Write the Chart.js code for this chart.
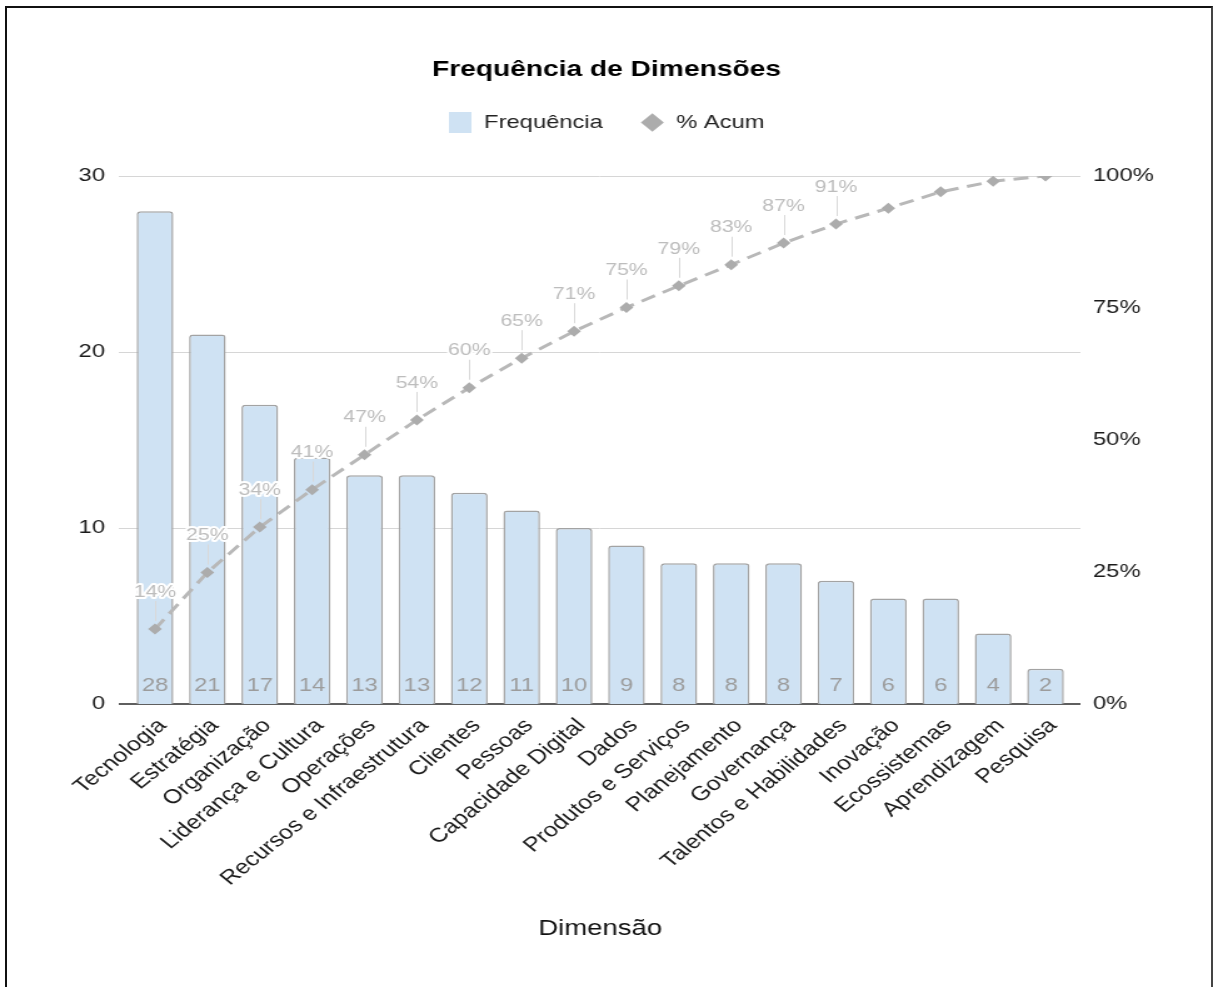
<!DOCTYPE html>
<html>
<head>
<meta charset="utf-8">
<title>Frequência de Dimensões</title>
<script src="https://cdn.jsdelivr.net/npm/chart.js@4.4.1/dist/chart.umd.min.js"></script>
<style>
  html, body { margin: 0; padding: 0; background: #fff; overflow: hidden; }
  /* thin frame round the picture, open at the bottom */
  #frame {
    position: absolute; left: 5px; top: 6px; width: 1208px; height: 1000px;
    box-sizing: border-box; border: 2px solid #111; border-bottom: none; border-right-color: #444;
  }
  #chart { position: absolute; left: 0; top: 0; }
</style>
</head>
<body>
<div id="frame"></div>
<!-- the source image is stretched sideways, so the canvas is drawn narrow and widened by its inline style -->
<canvas id="chart" width="970" height="987" style="width:1213px;height:987px"></canvas>
<script>
const FONT = "'Liberation Sans', Arial, sans-serif";

const dimensions = [
  "Tecnologia", "Estratégia", "Organização", "Liderança e Cultura", "Operações",
  "Recursos e Infraestrutura", "Clientes", "Pessoas", "Capacidade Digital", "Dados",
  "Produtos e Serviços", "Planejamento", "Governança", "Talentos e Habilidades",
  "Inovação", "Ecossistemas", "Aprendizagem", "Pesquisa",
];
const frequencies = [28, 21, 17, 14, 13, 13, 12, 11, 10, 9, 8, 8, 8, 7, 6, 6, 4, 2];
const cumulativePct = [14.2, 24.9, 33.5, 40.6, 47.2, 53.8, 59.9, 65.5, 70.6, 75.1, 79.2, 83.2, 87.3, 90.9, 93.9, 97.0, 99.0, 100];
// only the first points carry a label in the original
const pctLabels = ["14%", "25%", "34%", "41%", "47%", "54%", "60%", "65%", "71%", "75%", "79%", "83%", "87%", "91%", "", "", "", ""];

// legend swatch for the bars
const swatch = document.createElement("canvas");
swatch.width = 18;
swatch.height = 21;
const sctx = swatch.getContext("2d");
sctx.fillStyle = "#cfe2f3";
sctx.fillRect(0, 0, 18, 21);

// horizontal grid lines, a little wider than the plot area like the original
const gridPlugin = {
  id: "extendedGrid",
  beforeDatasetsDraw(chart) {
    const { ctx, chartArea } = chart;
    const y = chart.scales.y;
    ctx.save();
    y.ticks.forEach((t) => {
      const py = Math.round(y.getPixelForValue(t.value));
      const zero = t.value === 0;
      ctx.strokeStyle = zero ? "#5f5f5f" : "#d6d6d6";
      ctx.lineWidth = zero ? 2 : 1;
      const off = zero ? 0 : 0.5;
      ctx.beginPath();
      ctx.moveTo(chartArea.left - 8, py + off);
      ctx.lineTo(chartArea.right + 7, py + off);
      ctx.stroke();
    });
    ctx.restore();
  },
};

const labelsPlugin = {
  id: "valueLabels",
  afterDatasetsDraw(chart) {
    const { ctx } = chart;
    const base = chart.scales.y.getPixelForValue(0);
    ctx.save();
    ctx.textAlign = "center";
    ctx.textBaseline = "middle";

    ctx.font = `19px ${FONT}`;
    ctx.fillStyle = "#9c9c9c";
    chart.getDatasetMeta(0).data.forEach((bar, i) => {
      ctx.fillText(String(frequencies[i]), bar.x, base - 18);
    });

    ctx.font = `17px ${FONT}`;
    chart.getDatasetMeta(1).data.forEach((pt, i) => {
      if (!pctLabels[i]) return;
      const lx = Math.round(pt.x) + 0.5;
      ctx.strokeStyle = "#d9d9d9";
      ctx.lineWidth = 1;
      ctx.beginPath();
      ctx.moveTo(lx, pt.y - 8);
      ctx.lineTo(lx, pt.y - 28);
      ctx.stroke();
      ctx.lineJoin = "round";
      ctx.lineWidth = 4;
      ctx.strokeStyle = "#ffffff";
      ctx.strokeText(pctLabels[i], pt.x, pt.y - 37);
      ctx.fillStyle = "#bdbdbd";
      ctx.fillText(pctLabels[i], pt.x, pt.y - 37);
    });
    ctx.restore();
  },
};

const tickFont = { family: FONT, size: 19 };

new Chart(document.getElementById("chart"), {
  type: "bar",
  data: {
    labels: dimensions,
    datasets: [
      {
        type: "bar",
        label: "Frequência",
        data: frequencies,
        yAxisID: "y",
        order: 1,
        backgroundColor: "#cfe2f3",
        borderColor: "#a3a3a3",
        borderWidth: 1.5,
        borderRadius: { topLeft: 3, topRight: 3 },
        borderSkipped: "bottom",
        categoryPercentage: 1,
        barPercentage: 0.7,
      },
      {
        type: "line",
        label: "% Acum",
        data: cumulativePct,
        yAxisID: "y1",
        order: 0,
        borderColor: "#b8b8b8",
        backgroundColor: "#acacac",
        borderWidth: 3,
        borderDash: [12, 7],
        pointStyle: "rectRot",
        pointRadius: 5.5,
        pointBackgroundColor: "#acacac",
        pointBorderWidth: 0,
        tension: 0,
      },
    ],
  },
  options: {
    responsive: false,
    animation: false,
    layout: { padding: { left: 0, right: 0, top: 0, bottom: 40 } },
    plugins: {
      title: {
        display: true,
        text: "Frequência de Dimensões",
        color: "#000",
        font: { family: FONT, size: 22.5, weight: "bold" },
        padding: { top: 56, bottom: 0 },
      },
      // empty spacer between the legend and the plot
      subtitle: {
        display: true,
        text: "",
        weight: 500,
        font: { size: 10, lineHeight: 1 },
        padding: { top: 24, bottom: 0 },
      },
      legend: {
        labels: {
          usePointStyle: true,
          boxHeight: 13,
          padding: 30,
          color: "#222",
          font: { family: FONT, size: 19 },
          generateLabels(chart) {
            const items = Chart.defaults.plugins.legend.labels.generateLabels(chart);
            items.sort((a, b) => a.datasetIndex - b.datasetIndex);
            return items.map((it) =>
              it.datasetIndex === 0
                ? Object.assign(it, { pointStyle: swatch })
                : Object.assign(it, { pointStyle: "rectRot", fillStyle: "#acacac", lineWidth: 0, lineDash: [] })
            );
          },
        },
      },
      tooltip: { enabled: false },
    },
    scales: {
      x: {
        grid: { display: false, drawTicks: false },
        border: { display: false },
        ticks: {
          autoSkip: false,
          maxRotation: 45,
          minRotation: 45,
          padding: 10,
          labelOffset: 6,
          color: "#1a1a1a",
          font: { family: FONT, size: 20 },
        },
        title: {
          display: true,
          text: "Dimensão",
          color: "#111",
          font: { family: FONT, size: 22 },
          padding: { top: 4, bottom: 5 },
        },
        afterFit: (s) => { s.height = 243; },
      },
      y: {
        position: "left",
        min: 0,
        max: 30,
        grid: { display: false, drawTicks: false },
        border: { display: false },
        ticks: { stepSize: 10, padding: 19, color: "#1a1a1a", font: tickFont },
        afterFit: (s) => { s.width = 103; },
      },
      y1: {
        position: "right",
        min: 0,
        max: 100,
        grid: { display: false, drawTicks: false },
        border: { display: false },
        ticks: { stepSize: 25, padding: 17, color: "#1a1a1a", font: tickFont, callback: (v) => v + "%" },
        afterFit: (s) => { s.width = 113; },
      },
    },
  },
  plugins: [gridPlugin, labelsPlugin],
});
</script>
</body>
</html>
